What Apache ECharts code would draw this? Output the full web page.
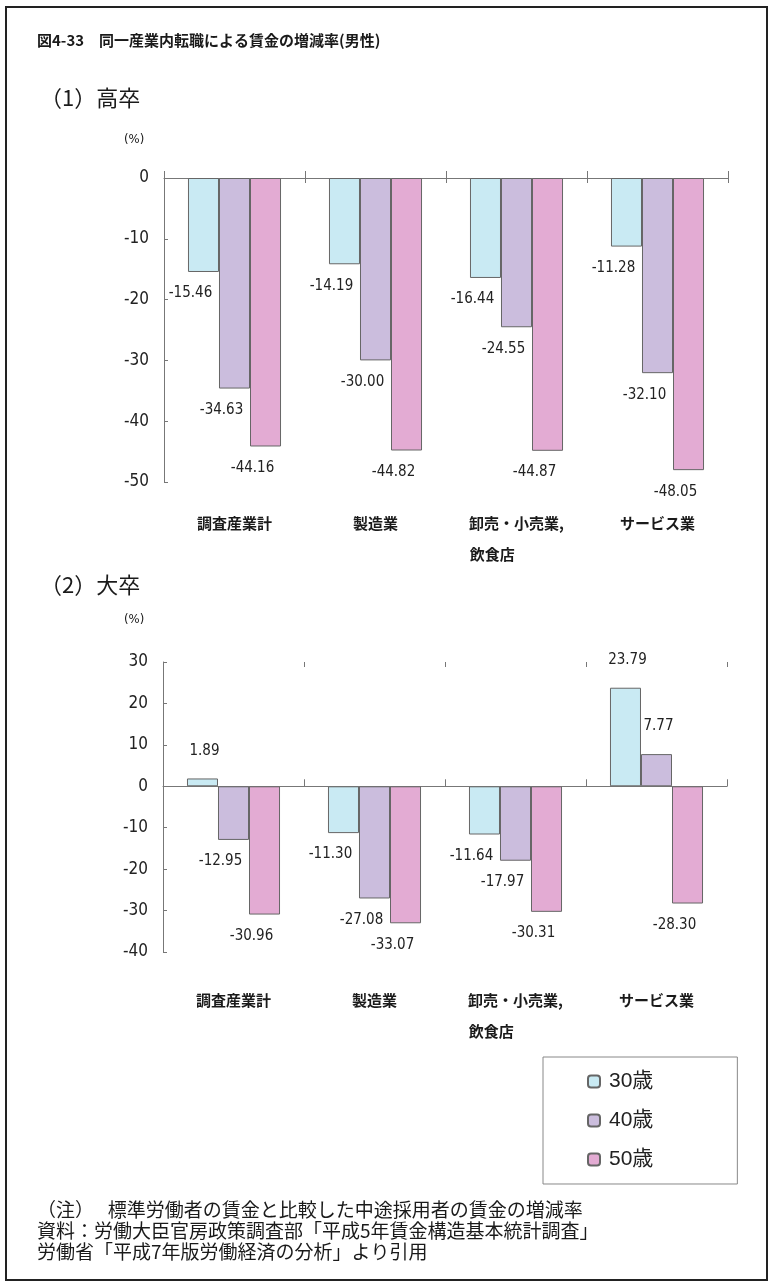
<!DOCTYPE html>
<html>
<head>
<meta charset="utf-8">
<script src="https://cdn.jsdelivr.net/npm/echarts@6/dist/echarts.min.js"></script>
<style>
  html, body { margin: 0; padding: 0; background: #fff; }
  #chart { width: 773px; height: 1284px; }
</style>
</head>
<body>
<div id="chart"></div>
<script>
// Industries (x categories)
const categories = ['調査産業計', '製造業', '卸売・小売業,\n飲食店　　　 ', 'サービス業'];
// Age groups (series)
const seriesNames = ['30歳', '40歳', '50歳'];
const seriesColors = ['#c9eaf3', '#cbbddd', '#e3abd3'];

// (1) 高卒: change in wage (%), by age
const hs30 = [-15.46, -14.19, -16.44, -11.28];
const hs40 = [-34.63, -30.00, -24.55, -32.10];
const hs50 = [-44.16, -44.82, -44.87, -48.05];

// (2) 大卒: change in wage (%), by age
const univ30 = [1.89, -11.30, -11.64, 23.79];
const univ40 = [-12.95, -27.08, -17.97, 7.77];
const univ50 = [-30.96, -33.07, -30.31, -28.30];

// Value axis ranges
const hsAxis = { min: -50, max: 0, interval: 10 };
const univAxis = { min: -40, max: 30, interval: 10 };

const numFont = '"Liberation Sans Narrow", "DejaVu Sans Condensed", "Liberation Sans", sans-serif';
const jpFont = '"Noto Sans CJK JP", sans-serif';

const posLabel = { position: 'top', distance: 20, offset: [2, 0] };
const negLabel = { position: 'bottom', distance: 14, offset: [-13, 0] };

function barData(values) {
  return values.map(v => ({ value: v, label: v >= 0 ? posLabel : negLabel }));
}

function makeGridAxes(gridIndex, labelMargin) {
  return [
    { // category labels at the bottom of the plot
      type: 'category', gridIndex, data: categories, position: 'bottom',
      axisLine: { show: false, onZero: false }, axisTick: { show: false },
      axisLabel: {
        interval: 0, margin: labelMargin, color: '#1a1a1a',
        fontFamily: jpFont, fontWeight: 'bold', fontSize: 15, lineHeight: 31,
        verticalAlign: 'top'
      }
    },
    { // zero line with ticks hanging below
      type: 'category', gridIndex, data: categories,
      axisLine: { show: true, onZero: true, lineStyle: { color: '#777', width: 1 } },
      axisTick: { show: true, length: 7, lineStyle: { color: '#777' } },
      axisLabel: { show: false }
    },
    { // ticks rising above the zero line
      type: 'category', gridIndex, data: categories,
      axisLine: { show: false, onZero: true },
      axisTick: { show: true, inside: true, length: 5, lineStyle: { color: '#777' } },
      axisLabel: { show: false }
    }
  ];
}

function makeValueAxis(gridIndex, range) {
  return {
    type: 'value', gridIndex, min: range.min, max: range.max, interval: range.interval,
    axisLine: { show: true, lineStyle: { color: '#777' } },
    axisTick: { show: true, inside: true, length: 4, lineStyle: { color: '#777' } },
    splitLine: { show: false },
    axisLabel: { color: '#222', fontFamily: numFont, fontSize: 17, margin: 15 }
  };
}

function makeSeries(name, color, values, xIdx, yIdx) {
  return {
    name, type: 'bar', xAxisIndex: xIdx, yAxisIndex: yIdx,
    data: barData(values),
    barGap: '0%', barCategoryGap: '34%',
    itemStyle: { color, borderColor: '#666', borderWidth: 1 },
    label: {
      show: true, color: '#222', fontFamily: numFont, fontSize: 15,
      formatter: p => p.value.toFixed(2)
    },
    emphasis: { disabled: true },
    animation: false
  };
}

const chart = echarts.init(document.getElementById('chart'), null, { renderer: 'canvas' });

const textStyleBase = { fill: '#1a1a1a', fontFamily: jpFont };

chart.setOption({
  backgroundColor: '#fff',
  animation: false,
  grid: [
    { left: 164, top: 178, width: 564, height: 304 },
    { left: 163, top: 662, width: 564, height: 290 }
  ],
  xAxis: [...makeGridAxes(0, 26), ...makeGridAxes(1, 33)],
  yAxis: [makeValueAxis(0, hsAxis), makeValueAxis(1, univAxis)],
  legend: {
    data: seriesNames, orient: 'vertical', left: 543, top: 1057,
    padding: [14, 84, 14, 44], itemGap: 18, itemWidth: 12, itemHeight: 12,
    borderColor: '#888', borderWidth: 1, selectedMode: false,
    textStyle: { fontFamily: '"Liberation Sans", ' + jpFont, fontSize: 21, color: '#222', padding: [0, 0, 0, 4] }
  },
  series: [
    makeSeries(seriesNames[0], seriesColors[0], hs30, 0, 0),
    makeSeries(seriesNames[1], seriesColors[1], hs40, 0, 0),
    makeSeries(seriesNames[2], seriesColors[2], hs50, 0, 0),
    makeSeries(seriesNames[0], seriesColors[0], univ30, 3, 1),
    makeSeries(seriesNames[1], seriesColors[1], univ40, 3, 1),
    makeSeries(seriesNames[2], seriesColors[2], univ50, 3, 1)
  ],
  graphic: [
    { type: 'rect', shape: { x: 6, y: 7, width: 761, height: 1273 },
      style: { fill: 'none', stroke: '#222', lineWidth: 2 }, silent: true },
    { type: 'text', left: 37, top: 33,
      style: { ...textStyleBase, text: '図4-33　同一産業内転職による賃金の増減率(男性)', fontSize: 15, fontWeight: 'bold' } },
    { type: 'text', left: 40, top: 87,
      style: { ...textStyleBase, text: '（1）高卒', fontSize: 22 } },
    { type: 'text', left: 124, top: 133,
      style: { ...textStyleBase, text: '(%)', fontSize: 13, fontFamily: numFont } },
    { type: 'text', left: 40, top: 574,
      style: { ...textStyleBase, text: '（2）大卒', fontSize: 22 } },
    { type: 'text', left: 124, top: 613,
      style: { ...textStyleBase, text: '(%)', fontSize: 13, fontFamily: numFont } },
    { type: 'text', left: 37, top: 1200,
      style: { ...textStyleBase, text: '（注）　 標準労働者の賃金と比較した中途採用者の賃金の増減率', fontSize: 19 } },
    { type: 'text', left: 37, top: 1221,
      style: { ...textStyleBase, text: '資料：労働大臣官房政策調査部「平成5年賃金構造基本統計調査」', fontSize: 19 } },
    { type: 'text', left: 37, top: 1242,
      style: { ...textStyleBase, text: '労働省「平成7年版労働経済の分析」より引用', fontSize: 19 } }
  ]
});
</script>
</body>
</html>
